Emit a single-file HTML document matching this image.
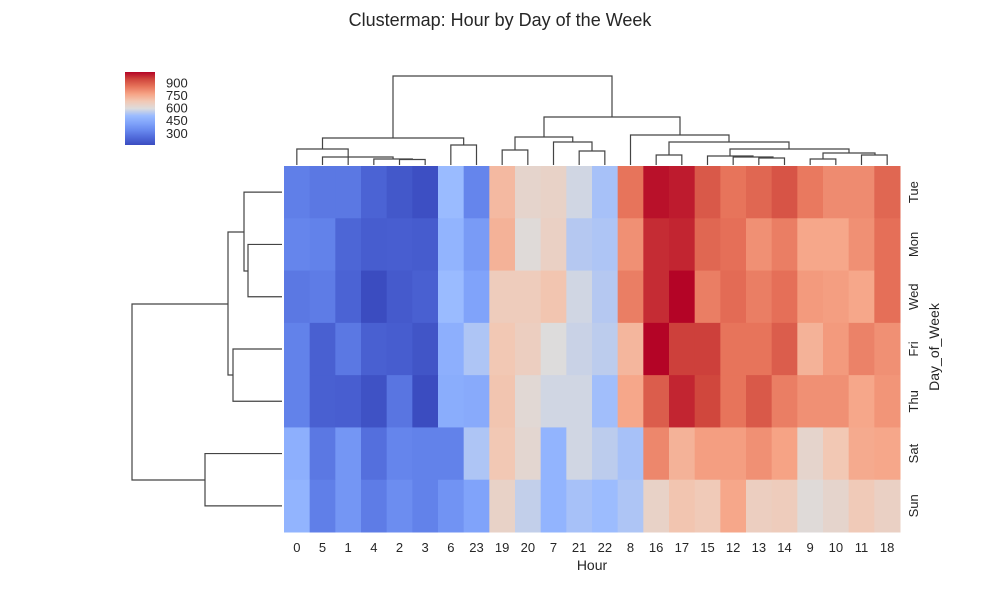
<!DOCTYPE html>
<html><head><meta charset="utf-8"><style>
body{margin:0;background:#fff;}
svg text{font-family:"Liberation Sans",Arial,sans-serif;fill:#262626;}
</style></head><body>
<svg id="chart" width="1000" height="598" xmlns="http://www.w3.org/2000/svg">
<text x="500" y="26" text-anchor="middle" font-size="18">Clustermap: Hour by Day of the Week</text>
<g id="heat"></g>
<g id="xt"></g>
<g id="yt"></g>
<g id="dend" stroke="#444" stroke-width="1.2" fill="none"></g>
<defs><linearGradient id="cg" x1="0" y1="1" x2="0" y2="0"></linearGradient></defs>
<rect x="125" y="72" width="30" height="73" fill="url(#cg)"/>
<g id="cbt"></g>
<text x="592" y="570" text-anchor="middle" font-size="14">Hour</text>
<text transform="translate(939,347) rotate(-90)" text-anchor="middle" font-size="14">Day_of_Week</text>
</svg>
<script>
const hours=["0","5","1","4","2","3","6","23","19","20","7","21","22","8","16","17","15","12","13","14","9","10","11","18"];
const days=["Tue","Mon","Wed","Fri","Thu","Sat","Sun"];
const valTue=[308,290,290,230,195,170,508,325,717,630,640,578,525,856,1013,1000,908,856,882,917,847,813,813,882];
const valMon=[325,317,238,212,215,208,482,395,734,604,647,543,534,804,978,987,882,865,804,838,760,760,804,865];
const valWed=[290,300,230,160,203,220,508,420,665,665,690,578,543,838,978,1030,838,873,838,865,786,778,760,865];
const valFri=[317,220,290,220,212,186,465,534,682,656,595,569,552,725,1030,952,952,856,856,900,734,786,830,804];
const valThu=[317,220,215,177,282,160,456,447,690,612,578,578,517,760,900,987,943,856,908,838,804,804,760,795];
const valSat=[465,290,378,264,325,317,317,534,682,621,482,578,552,525,821,734,778,778,804,769,630,682,752,760];
const valSun=[482,308,378,300,350,317,370,420,640,560,482,525,510,534,640,690,673,760,656,665,604,630,673,647];
const cbTicks=[300,450,600,750,900];
const vmin=160, vmax=1030;
const rows=[valTue,valMon,valWed,valFri,valThu,valSat,valSun];
const stops=[[0,[59,76,192]],[0.1,[79,105,217]],[0.2,[103,136,238]],[0.3,[128,163,250]],[0.4,[154,187,255]],[0.5,[221,220,220]],[0.6,[242,200,180]],[0.7,[246,163,133]],[0.8,[231,116,91]],[0.9,[208,71,61]],[1,[180,4,38]]];
function cw(t){t=Math.max(0,Math.min(1,t));for(let i=1;i<stops.length;i++){if(t<=stops[i][0]){const a=stops[i-1],b=stops[i],f=(t-a[0])/(b[0]-a[0]);return 'rgb('+a[1].map((c,k)=>Math.round(c+(b[1][k]-c)*f)).join(',')+')';}}}
const X0=284,X1=900,Y0=166,Y1=532;
const cw_=(X1-X0)/hours.length, rh=(Y1-Y0)/days.length;
const xs=i=>X0+cw_*i, ys=j=>Y0+rh*j;
const NS='http://www.w3.org/2000/svg';
function mk(t,a,p){const e=document.createElementNS(NS,t);for(const k in a)e.setAttribute(k,a[k]);p.appendChild(e);return e;}
const heat=document.getElementById('heat');
rows.forEach((r,j)=>r.forEach((v,i)=>{const e=mk('rect',{x:xs(i),y:ys(j),width:cw_+0.5,height:rh+0.5,fill:cw((v-vmin)/(vmax-vmin))},heat);

}));
const xt=document.getElementById('xt');
hours.forEach((h,i)=>{const e=mk('text',{x:xs(i)+cw_/2,y:552,'text-anchor':'middle','font-size':13},xt);e.textContent=h;

});
const yt=document.getElementById('yt');
days.forEach((d,j)=>{const cy=ys(j)+rh/2;const e=mk('text',{transform:'translate(918,'+cy+') rotate(-90)','text-anchor':'middle','font-size':13},yt);e.textContent=d;

});
const g=document.getElementById('cg');
for(let k=0;k<=10;k++){mk('stop',{offset:k/10,'stop-color':cw(k/10)},g);}
const cbt=document.getElementById('cbt');
cbTicks.forEach(v=>{const y=145-(v-vmin)/(vmax-vmin)*73;const e=mk('text',{x:166,y:y+4.5,'font-size':13},cbt);e.textContent=v;

});
// dendrograms
const d=document.getElementById('dend');
const cx=i=>xs(i)+cw_/2, ry=j=>ys(j)+rh/2;
function U(x1,y1,x2,y2,top){mk('path',{d:'M'+x1+' '+y1+'V'+top+'H'+x2+'V'+y2},d);}
function L(y1,x1,y2,x2,left){mk('path',{d:'M'+x1+' '+y1+'H'+left+'V'+y2+'H'+x2},d);}
const B=165;
U(cx(4),B,cx(5),B,159.5); // 2,3
U(cx(3),B,(cx(4)+cx(5))/2,159.5,159); // 4 + (2,3)
U(cx(1),B,(cx(3)+(cx(4)+cx(5))/2)/2,159,157); // 5 + ...
U(cx(0),B,cx(2),B,149); // 0 + 1 (+ group)
U(cx(6),B,cx(7),B,145);
U((cx(0)+cx(2))/2,149,(cx(6)+cx(7))/2,145,138);
U(cx(8),B,cx(9),B,150);
U(cx(11),B,cx(12),B,151);
U(cx(10),B,(cx(11)+cx(12))/2,151,142);
U((cx(8)+cx(9))/2,150,(cx(10)+(cx(11)+cx(12))/2)/2,142,137);
U(cx(14),B,cx(15),B,155);
U(cx(18),B,cx(19),B,158);
U(cx(17),B,773,158,157);
U(cx(16),B,753,157,156);
U(cx(20),B,cx(21),B,159);
U(cx(22),B,cx(23),B,155);
U(823,159,875,155,153);
U(730,156,849,153,149);
U(669,155,789,149,142);
U(cx(13),B,729,142,135);
U(544,137,680,135,117);
U(393,138,612,117,76);
const R=282;
L(ry(1),R,ry(2),R,248);
L(ry(0),R,271,248,244);
L(ry(3),R,ry(4),R,233);
L(232,244,375,233,228);
L(ry(5),R,ry(6),R,205);
L(304,228,480,205,132);
</script>
</body></html>
